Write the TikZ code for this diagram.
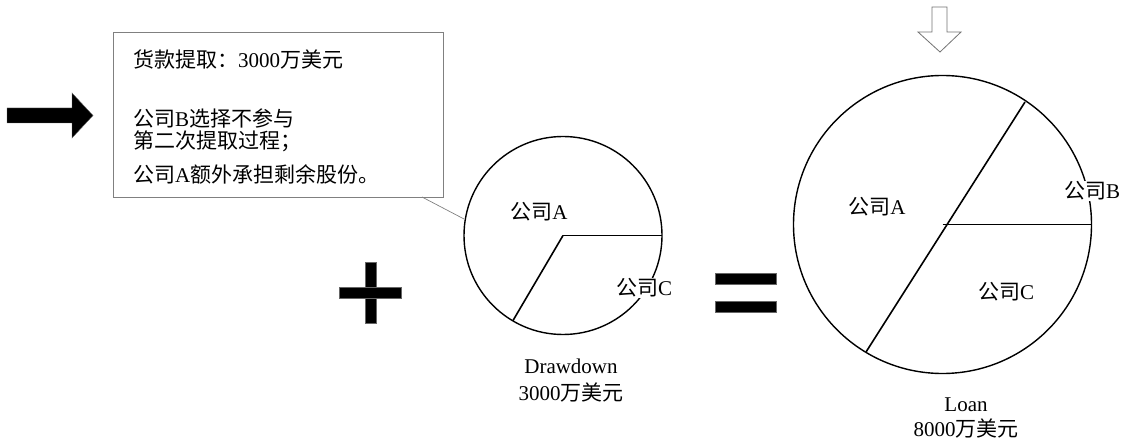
\documentclass[tikz,border=0pt]{standalone}
\usepackage{fontspec}
\setmainfont{Liberation Serif}
\newfontfamily\cjk{Noto Sans CJK SC}
\begin{document}
\begin{tikzpicture}[x=1pt,y=-1pt,
  txt/.style={font=\fontsize{21}{25}\selectfont, inner sep=0pt},
  lbl/.style={font=\fontsize{21}{25}\selectfont, inner sep=1pt},
  pie/.style={draw=black, line width=1.4pt},
  cut/.style={draw=black, line width=1.6pt},
  solidsym/.style={fill=black, draw=black!60, line width=0.4pt},
  callout/.style={draw=black!50, line width=0.8pt}]
\useasboundingbox (0,0) rectangle (1127,443);

% left black arrow
\fill[solidsym] (7,108) -- (72,108) -- (72,93) -- (93,115.5) -- (72,138) -- (72,123) -- (7,123) -- cycle;

% callout box
\node[callout, minimum width=330pt, minimum height=165pt, inner sep=0pt] (box) at (278,114.5) {};
\node[txt, anchor=west] (t1) at (133,59) {{\cjk 货款提取：}3000{\cjk 万美元}};
\node[txt, anchor=west] (t2) at (133,118) {{\cjk 公司}B{\cjk 选择不参与}};
\node[txt, anchor=west] (t3) at (133,141.5) {{\cjk 第二次提取过程；}};
\node[txt, anchor=west] (t4) at (133,174) {{\cjk 公司}A{\cjk 额外承担剩余股份。}};

% small circle
\coordinate (sc) at (563,235.5);
\draw[pie] (sc) circle[radius=99];
\draw[cut] (sc) -- ++(99,0) coordinate (scE);
\draw[cut] (sc) -- ++(-50,85) coordinate (scW);
\coordinate (ptr0) at (422,197);
\coordinate (ptr1) at (464,219);
\draw[draw=black!50, line width=0.7pt] (ptr0) -- (ptr1);
\node[lbl] (sA) at (539,212) {{\cjk 公司}A};
\node[lbl, fill=white] (sC) at (644,288) {{\cjk 公司}C};
\node[txt, align=center, font=\fontsize{21}{27}\selectfont] (sT) at (571,381) {Drawdown\\3000{\cjk 万美元}};

% plus
\fill[solidsym] (365,262) rectangle (376,323);
\fill[solidsym] (339,287) rectangle (401,298);

% equals
\fill[solidsym] (715,273) rectangle (776,284);
\fill[solidsym] (715,301) rectangle (776,312);

% big circle
\coordinate (bc) at (942.5,224.5);
\draw[pie] (bc) circle[radius=149];
\draw[cut] (bc) -- ++(149,0) coordinate (bcE);
\draw[cut] (866,352) coordinate (bcW) -- (1025,102) coordinate (bcN);
\node[lbl] (bA) at (877,207) {{\cjk 公司}A};
\node[lbl, fill=white] (bB) at (1092,191) {{\cjk 公司}B};
\node[lbl] (bC) at (1006,292) {{\cjk 公司}C};
\node[txt, align=center, font=\fontsize{21}{25}\selectfont] (bT) at (966,417.5) {Loan\\8000{\cjk 万美元}};

% hollow down arrow
\draw[draw=black!55, fill=white, line width=0.8pt] (932,7) -- (947,7) -- (947,32) -- (961,32) -- (940,52) -- (918,32) -- (932,32) -- cycle;
\end{tikzpicture}
\end{document}
